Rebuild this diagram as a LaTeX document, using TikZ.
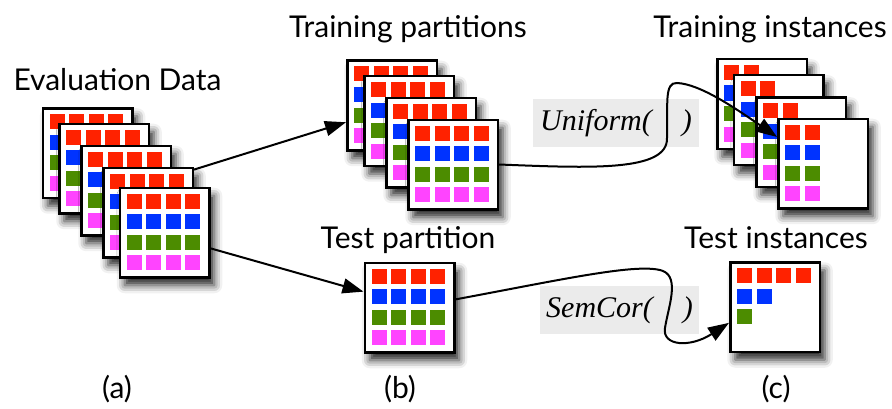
\documentclass[tikz,border=0pt]{standalone}
\usepackage{fontspec}
\setmainfont{Lato}
\newfontfamily\fnfont{Liberation Serif}
\usetikzlibrary{positioning, arrows.meta, shadows.blur}

\definecolor{sqred}{RGB}{255,34,0}
\definecolor{sqblue}{RGB}{0,51,255}
\definecolor{sqgreen}{RGB}{76,140,0}
\definecolor{sqpink}{RGB}{255,68,255}
\definecolor{fnback}{RGB}{235,235,235}

% rows of coloured squares: colour/number of squares
\newcommand{\gridfull}{sqred/4,sqblue/4,sqgreen/4,sqpink/4}
\newcommand{\gridhalf}{sqred/2,sqblue/2,sqgreen/2,sqpink/2}
\newcommand{\gridtest}{sqred/4,sqblue/2,sqgreen/1}
\newcommand{\cardfill}[2]{%
  \foreach \sqcol/\sqnum [count=\sqrow from 0] in #2
    \foreach \k in {1,...,\sqnum}
      \fill[\sqcol] ([shift={(19.6*\k-57.6, 24-20.5*\sqrow)}]#1.center) rectangle +(15,15);
}

\begin{document}
\begin{tikzpicture}[x=1pt, y=1pt, on grid,
    card/.style={draw, line width=2.5pt, fill=white, minimum size=89.5pt, inner sep=0pt,
      blur shadow={shadow xshift=5pt, shadow yshift=-8pt, shadow blur radius=8pt, shadow opacity=85}},
    caption/.style={font=\fontsize{30}{36}\selectfont, anchor=base, inner sep=0pt},
    fnbox/.style={fill=fnback, minimum height=48pt, inner sep=0pt,
      font=\fnfont\itshape\fontsize{30}{35}\selectfont},
    arrow/.style={-{Triangle[length=21pt,width=15pt]}, line width=2pt}]
    \useasboundingbox (0,0) rectangle (892,408);

    % (a) evaluation data
    \node[card] (e1) at (87.5,255) {};
    \cardfill{e1}{\gridfull}
    \node[card] (e2) [below right=15.5pt and 16.5pt of e1] {};
    \cardfill{e2}{\gridfull}
    \node[card] (e3) [below right=22pt and 22pt of e2] {};
    \cardfill{e3}{\gridfull}
    \node[card] (e4) [below right=22pt and 22pt of e3] {};
    \cardfill{e4}{\gridfull}
    \node[card] (e5) [below right=20pt and 16.5pt of e4] {};
    \cardfill{e5}{\gridfull}

    % (b) partitions
    \node[card] (t1) at (392,302.5) {};
    \cardfill{t1}{\gridfull}
    \node[card] (t2) [below right=15.5pt and 17pt of t1] {};
    \cardfill{t2}{\gridfull}
    \node[card] (t3) [below right=21.5pt and 22pt of t2] {};
    \cardfill{t3}{\gridfull}
    \node[card] (t4) [below right=22pt and 22pt of t3] {};
    \cardfill{t4}{\gridfull}

    \node[card] (p) at (409.5,100.5) {};
    \cardfill{p}{\gridfull}

    % (c) instances
    \node[card] (i1) at (762,304) {};
    \cardfill{i1}{\gridhalf}
    \node[card] (i2) [below right=16pt and 16.5pt of i1] {};
    \cardfill{i2}{\gridhalf}
    \node[card] (i3) [below right=22pt and 22.5pt of i2] {};
    \cardfill{i3}{\gridhalf}
    \node[card] (i4) [below right=21.5pt and 22pt of i3] {};
    \cardfill{i4}{\gridhalf}

    \node[card] (s) at (775,101) {};
    \cardfill{s}{\gridtest}

    % labels
    \node[caption] (evallabel) at (117.5,317) {Evaluation Data};
    \node[caption] (trainplabel) at (408,370) {Training partitions};
    \node[caption] (trainilabel) at (770,370) {Training instances};
    \node[caption] (testplabel) at (408,160) {Test partition};
    \node[caption] (testilabel) at (776,160) {Test instances};
    \node[caption] (alabel) at (117,10) {(a)};
    \node[caption] (blabel) at (400,10) {(b)};
    \node[caption] (clabel) at (776,10) {(c)};

    % sampling functions
    \node[fnbox, minimum width=166pt] (uniform) at (616,285) {Uniform(\hspace{30pt})};
    \node[fnbox, minimum width=159pt] (semcor) at (619.5,98) {SemCor(\hspace{30pt})};

    \path[arrow]
    (e4.43) edge (t1.200)
    (e5.341) edge (p.161);

    \draw[arrow] (t4.east) .. controls (590,240) and (668,236) .. (667,270)
        .. controls (668,303) and (664,326) .. (677,325)
        .. controls (700,324) and (735,300) .. (i4.150);
    \draw[arrow] (p.10) .. controls (560,128) and (640,146) .. (663,137)
        .. controls (680,130) and (668,100) .. (665,80)
        .. controls (662,62) and (690,60) .. (s.199);
\end{tikzpicture}
\end{document}
